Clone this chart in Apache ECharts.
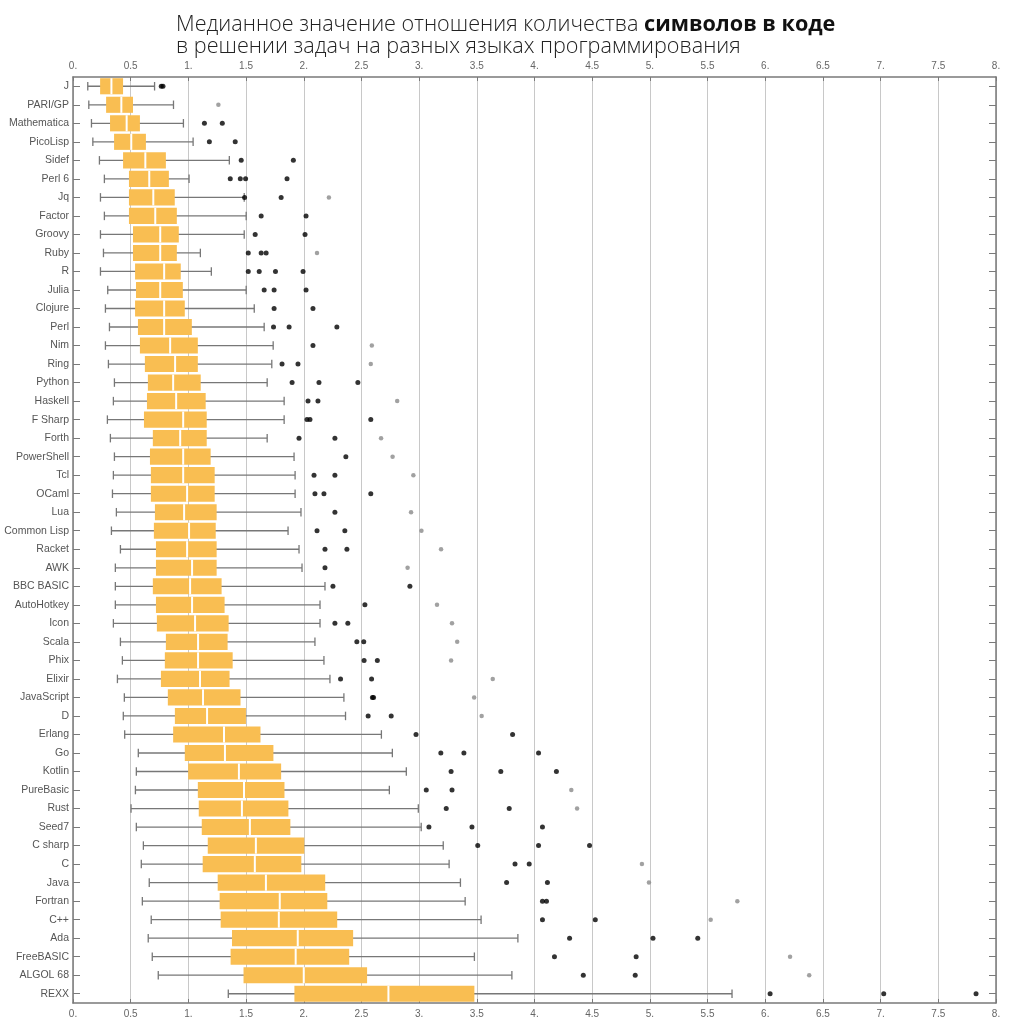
<!DOCTYPE html>
<html>
<head>
<meta charset="utf-8">
<script src="https://cdn.jsdelivr.net/npm/echarts@6/dist/echarts.min.js"></script>
<style>
html,body{margin:0;padding:0;background:#fff;}
#chart{width:1010px;height:1027px;}
</style>
</head>
<body>
<div id="chart"></div>
<script>
const categories = ["J","PARI/GP","Mathematica","PicoLisp","Sidef","Perl 6","Jq","Factor","Groovy","Ruby","R","Julia","Clojure","Perl","Nim","Ring","Python","Haskell","F Sharp","Forth","PowerShell","Tcl","OCaml","Lua","Common Lisp","Racket","AWK","BBC BASIC","AutoHotkey","Icon","Scala","Phix","Elixir","JavaScript","D","Erlang","Go","Kotlin","PureBasic","Rust","Seed7","C sharp","C","Java","Fortran","C++","Ada","FreeBASIC","ALGOL 68","REXX"];

const whiskerLow = [0.128,0.137,0.16,0.172,0.229,0.272,0.238,0.272,0.238,0.264,0.238,0.301,0.281,0.316,0.281,0.307,0.359,0.35,0.298,0.324,0.359,0.35,0.342,0.376,0.333,0.411,0.367,0.367,0.367,0.35,0.411,0.428,0.385,0.445,0.436,0.448,0.566,0.549,0.541,0.503,0.549,0.61,0.592,0.661,0.601,0.678,0.652,0.687,0.739,1.346];
const quartile1 = [0.235,0.287,0.321,0.356,0.434,0.485,0.485,0.485,0.52,0.52,0.538,0.546,0.538,0.563,0.58,0.623,0.649,0.641,0.615,0.692,0.667,0.675,0.675,0.71,0.701,0.719,0.719,0.692,0.719,0.727,0.805,0.796,0.762,0.822,0.883,0.868,0.969,0.998,1.082,1.09,1.116,1.168,1.124,1.254,1.271,1.28,1.378,1.366,1.478,1.919];
const median = [0.333,0.419,0.465,0.505,0.627,0.661,0.696,0.713,0.756,0.756,0.79,0.756,0.79,0.79,0.842,0.885,0.868,0.894,0.955,0.929,0.955,0.955,0.989,0.963,1.006,0.989,1.032,1.015,1.032,1.058,1.084,1.084,1.101,1.127,1.162,1.309,1.317,1.438,1.482,1.464,1.533,1.585,1.576,1.672,1.792,1.784,1.948,1.93,2.0,2.734];
const quartile3 = [0.434,0.52,0.58,0.632,0.805,0.831,0.882,0.9,0.917,0.9,0.934,0.952,0.969,1.03,1.082,1.082,1.107,1.15,1.159,1.159,1.193,1.228,1.228,1.245,1.237,1.245,1.245,1.288,1.314,1.349,1.34,1.384,1.357,1.452,1.499,1.625,1.737,1.804,1.833,1.867,1.884,2.005,1.979,2.186,2.204,2.29,2.428,2.394,2.549,3.479];
const whiskerHigh = [0.707,0.871,0.957,1.041,1.355,1.006,1.484,1.501,1.484,1.104,1.199,1.501,1.571,1.657,1.735,1.723,1.683,1.83,1.83,1.683,1.916,1.925,1.925,1.976,1.864,1.959,1.985,2.184,2.141,2.141,2.097,2.175,2.227,2.348,2.362,2.673,2.768,2.889,2.742,2.993,3.018,3.209,3.26,3.358,3.399,3.537,3.856,3.479,3.804,5.712];

const nearOutliers = [
  [0.765,0.78],[],[1.139,1.294],[1.182,1.406],[1.458,1.91],[1.363,1.45,1.496,1.855],
  [1.487,1.804],[1.631,2.02],[1.579,2.011],[1.519,1.631,1.674],[1.519,1.614,1.755,1.994],
  [1.657,1.743,2.02],[1.743,2.08],[1.738,1.873,2.287],[2.08],[1.812,1.95],[1.899,2.132,2.469],
  [2.037,2.123],[2.028,2.054,2.581],[1.959,2.27],[2.365],[2.089,2.27],[2.097,2.175,2.581],
  [2.27],[2.115,2.356],[2.184,2.374],[2.184],[2.253,2.92],[2.53],[2.27,2.382],[2.46,2.52],
  [2.523,2.638],[2.319,2.588],[2.595,2.605],[2.558,2.758],[2.973,3.81],[3.188,3.388,4.035],
  [3.277,3.708,4.19],[3.062,3.285],[3.235,3.781],[3.085,3.458,4.069],[3.508,4.035,4.477],
  [3.831,3.954],[3.758,4.112],[4.069,4.104],[4.069,4.527],[4.304,5.027,5.415],[4.173,4.881],
  [4.423,4.873],[6.042,7.027,7.827]
];
const farOutliers = [
  [],[1.26],[],[],[],[],[2.218],[],[],[2.115],[],[],[],[],[2.59],[2.581],[],
  [2.81],[],[2.67],[2.77],[2.95],[],[2.93],[3.02],[3.19],[2.90],[],[3.155],[3.285],[3.33],
  [3.277],[3.638],[3.477],[3.542],[],[],[],[4.319],[4.369],[],[],[4.931],[4.992],[5.758],[5.527],[],
  [6.215],[6.381],[]
];

const boxData = categories.map((c, i) => [i, whiskerLow[i], quartile1[i], median[i], quartile3[i], whiskerHigh[i]]);
const nearData = [];
const farData = [];
categories.forEach((c, i) => {
  nearOutliers[i].forEach(v => nearData.push([v, c]));
  farOutliers[i].forEach(v => farData.push([v, c]));
});

const xFmt = v => (Math.abs(v - Math.round(v)) < 1e-9 ? Math.round(v) + '.' : String(v));

function xAxisDef(pos, withSplit) {
  return {
    type: 'value', position: pos, min: 0, max: 8, interval: 0.5,
    axisLine: { show: true, onZero: false, lineStyle: { color: '#7a7a7a', width: 1.5 } },
    axisTick: { show: true, inside: true, length: 4, lineStyle: { color: '#7a7a7a' } },
    axisLabel: { show: true, formatter: xFmt, color: '#666', fontSize: 10, fontFamily: 'Liberation Sans', margin: 6, showMinLabel: true, showMaxLabel: true },
    splitLine: { show: withSplit, lineStyle: { color: '#c8c8c8', width: 1 } }
  };
}
function yAxisDef(pos, showLabel) {
  return {
    type: 'category', position: pos, data: categories, inverse: true,
    axisLine: { show: true, onZero: false, lineStyle: { color: '#7a7a7a', width: 1.5 } },
    axisTick: { show: true, inside: true, length: 7, alignWithLabel: true, lineStyle: { color: '#7a7a7a' } },
    axisLabel: { show: showLabel, color: '#555', fontSize: 10.5, fontFamily: 'Liberation Sans', margin: 4 },
    splitLine: { show: false }
  };
}

const chart = echarts.init(document.getElementById('chart'), null, { renderer: 'canvas' });
chart.setOption({
  animation: false,
  backgroundColor: '#fff',
  title: {
    left: 171, top: 9,
    text: '{a|Медианное значение отношения количества }{b|символов в коде}\n{a|в решении задач на разных языках программирования}',
    textStyle: {
      rich: {
        a: { fontFamily: 'Open Sans', fontWeight: 300, fontSize: 21.6, color: '#222', lineHeight: 22 },
        b: { fontFamily: 'Open Sans', fontWeight: 'bold', fontSize: 21.6, color: '#111', lineHeight: 22 }
      }
    }
  },
  grid: { left: 73, right: 14, top: 77, bottom: 24, containLabel: false, outerBoundsMode: 'none' },
  xAxis: [xAxisDef('bottom', true), xAxisDef('top', false)],
  yAxis: [yAxisDef('left', true), yAxisDef('right', false)],
  series: [
    {
      type: 'custom',
      xAxisIndex: 0, yAxisIndex: 0,
      data: boxData,
      encode: { x: [1, 2, 3, 4, 5], y: 0 },
      renderItem: function (params, api) {
        const idx = api.value(0);
        const lo = api.coord([api.value(1), idx]);
        const b1 = api.coord([api.value(2), idx]);
        const md = api.coord([api.value(3), idx]);
        const b3 = api.coord([api.value(4), idx]);
        const hi = api.coord([api.value(5), idx]);
        const band = api.size([0, 1])[1];
        const h = band * 0.87;
        const cap = band * 0.23;
        const y = lo[1];
        const ws = { stroke: '#777', lineWidth: 1.3 };
        return {
          type: 'group',
          children: [
            { type: 'line', shape: { x1: lo[0], y1: y, x2: hi[0], y2: y }, style: ws },
            { type: 'line', shape: { x1: lo[0], y1: y - cap, x2: lo[0], y2: y + cap }, style: ws },
            { type: 'line', shape: { x1: hi[0], y1: y - cap, x2: hi[0], y2: y + cap }, style: ws },
            { type: 'rect', shape: { x: b1[0], y: y - h / 2, width: b3[0] - b1[0], height: h }, style: { fill: '#F9BE52' } },
            { type: 'line', shape: { x1: md[0], y1: y - h / 2, x2: md[0], y2: y + h / 2 }, style: { stroke: '#fff', lineWidth: 2 } }
          ]
        };
      },
      z: 2
    },
    {
      type: 'scatter', xAxisIndex: 0, yAxisIndex: 0,
      data: farData, symbol: 'circle', symbolSize: 4.5,
      itemStyle: { color: '#8a8a8a' }, z: 3
    },
    {
      type: 'scatter', xAxisIndex: 0, yAxisIndex: 0,
      data: nearData, symbol: 'circle', symbolSize: 5,
      itemStyle: { color: '#000' }, z: 4
    }
  ]
});
</script>
</body>
</html>
